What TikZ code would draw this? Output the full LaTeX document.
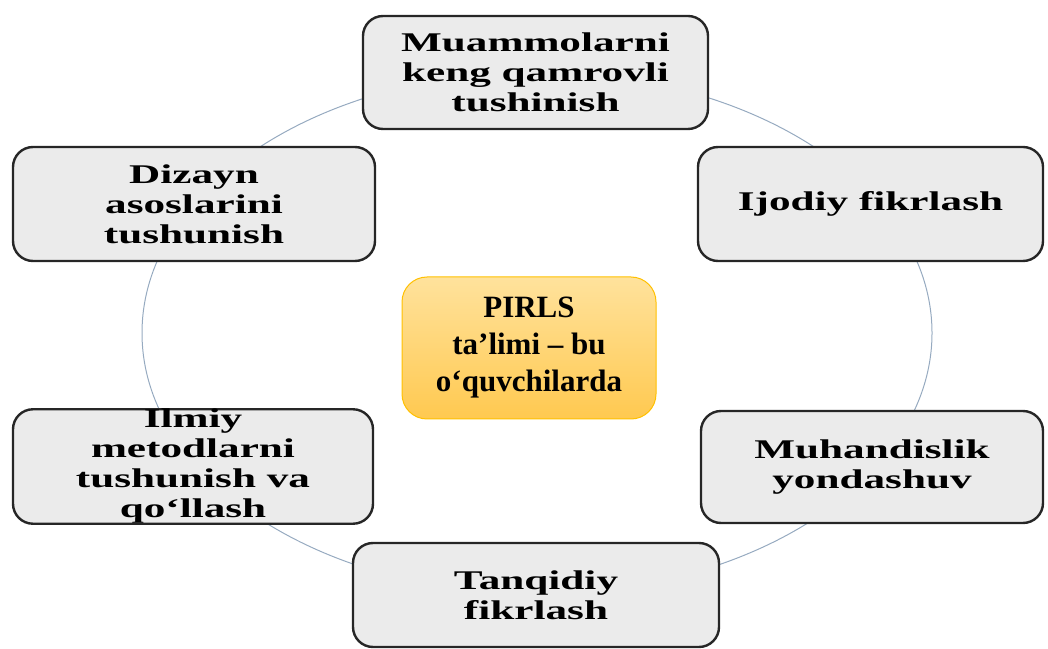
\documentclass[tikz,border=0pt]{standalone}
\usepackage{fontspec}
\setmainfont{Liberation Serif}
\newfontfamily\widefont[FakeStretch=1.6]{Liberation Serif}
\usetikzlibrary{shapes.misc}

\definecolor{ringline}{RGB}{150,170,192}
\definecolor{boxfill}{RGB}{235,235,235}
\definecolor{boxline}{RGB}{38,38,38}
\definecolor{coretop}{RGB}{255,226,156}
\definecolor{corebot}{RGB}{255,201,80}
\definecolor{coreline}{RGB}{255,192,0}

\begin{document}
\begin{tikzpicture}[x=1pt, y=1pt,
  skill/.style={draw=boxline, line width=2.4pt, fill=boxfill, rounded corners=20pt,
    align=center, inner sep=0pt, font=\widefont\bfseries\fontsize{27}{30}\selectfont},
  core/.style={draw=coreline, line width=1pt, top color=coretop, bottom color=corebot,
    rounded corners=25pt, align=center, inner sep=0pt,
    minimum width=254pt, minimum height=142pt, font=\bfseries\fontsize{31}{37}\selectfont}]
  \useasboundingbox (0,0) rectangle (1048,648);
  % ring behind the boxes
  \coordinate (o) at (537,315);
  \draw[ringline, line width=1pt] (o) ellipse [x radius=395, y radius=261];
  % outer boxes
  \node[skill, minimum width=345pt, minimum height=113pt] (keng) at (535.5,575.5)
    {Muammolarni\\keng qamrovli\\tushinish};
  \node[skill, minimum width=345pt, minimum height=114pt] (ijod) at (870.5,444)
    {Ijodiy fikrlash};
  \node[skill, minimum width=342pt, minimum height=112pt] (muhand) at (872,181)
    {Muhandislik\\yondashuv};
  \node[skill, minimum width=366pt, minimum height=104pt] (tanqid) at (536,53)
    {Tanqidiy\\fikrlash};
  \node[skill, minimum width=360pt, minimum height=111pt] (ilmiy) at (193,181.5)
    {Ilmiy\\metodlarni\\tushunish va\\qo‘llash};
  \node[skill, minimum width=362pt, minimum height=114pt] (dizayn) at (194,444)
    {Dizayn\\asoslarini\\tushunish};
  % centre
  \node[core] (pirls) at (529,300) {PIRLS\\ta’limi – bu\\o‘quvchilarda};
\end{tikzpicture}
\end{document}
